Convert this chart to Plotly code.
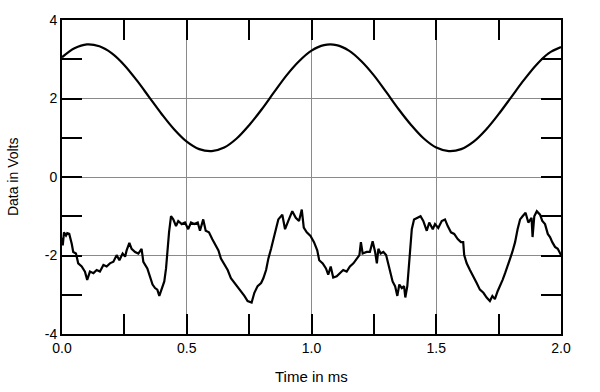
import plotly.graph_objects as go

# Upper trace (sine-like signal) at 0.05 ms steps
sine_t = [0.00, 0.05, 0.10, 0.15, 0.20, 0.25, 0.30, 0.35, 0.40, 0.45,
          0.50, 0.55, 0.60, 0.65, 0.70, 0.75, 0.80, 0.85, 0.90, 0.95,
          1.00, 1.05, 1.10, 1.15, 1.20, 1.25, 1.30, 1.35, 1.40, 1.45,
          1.50, 1.55, 1.60, 1.65, 1.70, 1.75, 1.80, 1.85, 1.90, 1.95, 2.00]
sine_v = [3.05, 3.28, 3.38, 3.33, 3.15, 2.85, 2.46, 2.03, 1.60, 1.21,
          0.90, 0.71, 0.66, 0.75, 0.98, 1.32, 1.72, 2.16, 2.59, 2.95,
          3.22, 3.36, 3.36, 3.22, 2.95, 2.59, 2.16, 1.72, 1.32, 0.98,
          0.75, 0.66, 0.71, 0.90, 1.21, 1.60, 2.03, 2.46, 2.85, 3.15, 3.31]

# Lower trace (distorted, noisy signal)
noisy_t = [0.000, 0.003, 0.008, 0.016, 0.021, 0.029, 0.039, 0.045, 0.056, 0.065,
           0.079, 0.092, 0.101, 0.112, 0.126, 0.139, 0.152, 0.166, 0.179, 0.192,
           0.206, 0.219, 0.230, 0.243, 0.253, 0.259, 0.270, 0.279, 0.293, 0.306,
           0.319, 0.326, 0.342, 0.353, 0.363, 0.373, 0.382, 0.390, 0.400, 0.410,
           0.417, 0.422, 0.429, 0.437, 0.446, 0.457, 0.466, 0.480, 0.493, 0.506,
           0.517, 0.530, 0.544, 0.553, 0.566, 0.576, 0.589, 0.602, 0.616, 0.627,
           0.637, 0.651, 0.664, 0.677, 0.691, 0.704, 0.717, 0.731, 0.744, 0.760,
           0.771, 0.784, 0.798, 0.807, 0.818, 0.827, 0.838, 0.847, 0.856, 0.867,
           0.883, 0.894, 0.907, 0.923, 0.937, 0.950, 0.961, 0.969, 0.981, 0.996,
           1.010, 1.023, 1.031, 1.045, 1.058, 1.067, 1.077, 1.087, 1.101, 1.114,
           1.127, 1.141, 1.154, 1.168, 1.181, 1.192, 1.198, 1.205, 1.221, 1.234,
           1.245, 1.255, 1.262, 1.268, 1.277, 1.288, 1.299, 1.308, 1.317, 1.325,
           1.335, 1.344, 1.352, 1.362, 1.371, 1.376, 1.384, 1.390, 1.395, 1.402,
           1.411, 1.424, 1.437, 1.448, 1.462, 1.472, 1.486, 1.495, 1.508, 1.522,
           1.535, 1.546, 1.559, 1.572, 1.586, 1.599, 1.608, 1.612, 1.622, 1.635,
           1.649, 1.662, 1.675, 1.689, 1.702, 1.715, 1.725, 1.735, 1.746, 1.756,
           1.766, 1.776, 1.786, 1.796, 1.805, 1.816, 1.826, 1.836, 1.846, 1.858,
           1.869, 1.882, 1.886, 1.893, 1.903, 1.916, 1.925, 1.936, 1.947, 1.956,
           1.965, 1.976, 1.987, 2.000]
noisy_v = [-1.55, -1.74, -1.41, -1.49, -1.43, -1.45, -1.70, -1.91, -1.95, -2.20,
           -2.28, -2.41, -2.62, -2.41, -2.45, -2.37, -2.41, -2.24, -2.28, -2.20,
           -2.16, -1.99, -2.12, -1.95, -2.03, -1.87, -1.68, -1.83, -1.91, -1.95,
           -1.83, -2.16, -2.33, -2.53, -2.74, -2.83, -2.87, -3.03, -2.87, -2.66,
           -2.33, -1.83, -1.41, -1.00, -1.08, -1.25, -1.12, -1.20, -1.16, -1.33,
           -1.16, -1.20, -1.16, -1.37, -1.08, -1.37, -1.41, -1.58, -1.74, -1.87,
           -2.08, -2.24, -2.37, -2.58, -2.70, -2.78, -2.91, -3.03, -3.16, -3.20,
           -2.95, -2.78, -2.70, -2.58, -2.37, -2.08, -1.83, -1.58, -1.33, -1.08,
           -0.96, -1.33, -1.12, -0.87, -1.04, -1.12, -0.83, -1.29, -1.41, -1.50,
           -1.66, -1.87, -2.12, -2.20, -2.33, -2.49, -2.28, -2.56, -2.53, -2.45,
           -2.37, -2.41, -2.28, -2.20, -2.08, -1.99, -1.66, -1.95, -1.91, -1.91,
           -1.64, -1.91, -2.20, -1.83, -1.95, -1.91, -1.99, -2.20, -2.41, -2.66,
           -2.78, -3.03, -2.74, -2.83, -2.78, -3.07, -2.78, -2.33, -1.74, -1.33,
           -1.08, -1.04, -1.00, -1.12, -1.37, -1.16, -1.33, -1.20, -1.30, -1.12,
           -1.08, -1.25, -1.41, -1.45, -1.58, -1.66, -1.66, -1.99, -2.20, -2.37,
           -2.53, -2.70, -2.87, -2.95, -3.07, -3.16, -3.03, -3.11, -2.91, -2.78,
           -2.62, -2.45, -2.24, -2.08, -1.91, -1.66, -1.33, -1.08, -1.00, -0.91,
           -1.16, -1.04, -1.53, -1.00, -0.87, -0.96, -1.12, -1.20, -1.45, -1.53,
           -1.66, -1.78, -1.83, -1.99]

x_ticks = [0.0, 0.5, 1.0, 1.5, 2.0]
x_tick_text = ["0.0", "0.5", "1.0", "1.5", "2.0"]
y_ticks = [-4, -2, 0, 2, 4]
y_tick_text = ["-4", "-2", "0", "2", "4"]

FONT = "Liberation Sans, Arial, sans-serif"

fig = go.Figure()
fig.add_trace(go.Scatter(x=sine_t, y=sine_v, mode="lines", line=dict(color="black", width=2.2, shape="spline"),
                         showlegend=False))
fig.add_trace(go.Scatter(x=noisy_t, y=noisy_v, mode="lines", line=dict(color="black", width=2.2),
                         showlegend=False))

axis_common = dict(
    ticks="inside", ticklen=20, tickwidth=1.5, tickcolor="black",
    showgrid=True, gridcolor="#8a8a8a", gridwidth=1,
    showline=True, linewidth=2, linecolor="black", mirror="ticks",
    zeroline=False, tickfont=dict(family=FONT, size=14, color="black"),
    ticklabeloverflow="allow",
)

fig.update_xaxes(range=[0, 2], tickvals=x_ticks, ticktext=x_tick_text,
                 minor=dict(tickvals=[0.25, 0.75, 1.25, 1.75], ticks="inside", ticklen=20,
                            tickwidth=1.5, tickcolor="black", showgrid=False),
                 **axis_common)
fig.update_yaxes(range=[-4, 4], tickvals=y_ticks, ticktext=y_tick_text,
                 minor=dict(tickvals=[-3, -1, 1, 3], ticks="inside", ticklen=20,
                            tickwidth=1.5, tickcolor="black", showgrid=False),
                 **axis_common)

fig.add_annotation(text="Time in ms", xref="paper", yref="paper", x=0.5, y=-0.134,
                   xanchor="center", yanchor="middle", showarrow=False,
                   font=dict(family=FONT, size=15, color="black"))
fig.add_annotation(text="Data in Volts", xref="paper", yref="paper", x=-0.098, y=0.5,
                   xanchor="center", yanchor="middle", showarrow=False, textangle=-90,
                   font=dict(family=FONT, size=14, color="black"))

fig.update_layout(width=600, height=392, margin=dict(l=62, r=39, t=13, b=58),
                  paper_bgcolor="white", plot_bgcolor="white")

# remove the page body's default 8px margin so the figure sits at the window's corner
fig.write_html("out.html", config={"displayModeBar": False},
               post_script="document.body.style.margin='0px';")
